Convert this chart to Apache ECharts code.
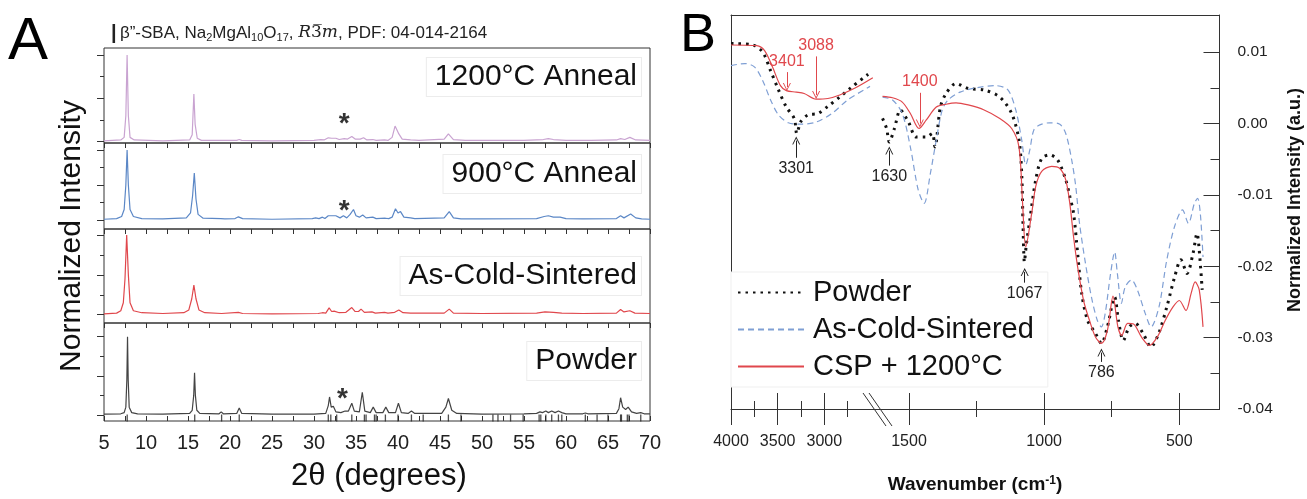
<!DOCTYPE html>
<html>
<head>
<meta charset="utf-8">
<script src="https://cdn.jsdelivr.net/npm/echarts@6/dist/echarts.min.js"></script>
<style>
  html, body { margin: 0; padding: 0; background: #fff; }
  #chart { width: 1307px; height: 499px; }
</style>
</head>
<body>
<div id="chart"></div>
<script>
// ---- XRD patterns (2theta, normalized intensity) ----
const xrd1200 = [[5,0.01],[7.0,0.02],[7.4,0.05],[7.6,0.3],[7.75,1.0],[7.9,0.3],[8.1,0.05],[8.6,0.02],[12,0.01],[15.2,0.02],[15.5,0.08],[15.7,0.55],[15.85,0.2],[16.1,0.04],[16.6,0.015],[20.8,0.015],[21.1,0.025],[21.4,0.015],[25,0.01],[30,0.015],[30.8,0.025],[31.2,0.02],[31.7,0.045],[32.1,0.04],[32.6,0.04],[33.0,0.025],[33.6,0.035],[34.0,0.03],[34.5,0.06],[34.9,0.03],[35.5,0.03],[35.9,0.045],[36.3,0.02],[37.0,0.025],[37.4,0.015],[38.4,0.02],[38.8,0.015],[39.3,0.05],[39.65,0.18],[40.1,0.09],[40.5,0.03],[41.5,0.02],[42.5,0.015],[45.5,0.03],[46.0,0.09],[46.6,0.025],[48,0.015],[55,0.015],[57.3,0.025],[57.9,0.035],[58.5,0.025],[60,0.015],[63,0.015],[66,0.02],[66.5,0.035],[67.0,0.025],[67.6,0.05],[68.3,0.02],[70,0.015]];
const xrd900 = [[5,0.01],[6.5,0.02],[7.1,0.05],[7.4,0.15],[7.6,0.5],[7.75,1.0],[7.9,0.5],[8.1,0.15],[8.5,0.05],[9.5,0.02],[12,0.015],[14.8,0.03],[15.3,0.1],[15.55,0.35],[15.75,0.67],[15.95,0.3],[16.2,0.08],[16.8,0.025],[18.9,0.02],[19.1,0.03],[19.4,0.015],[20.6,0.02],[21.0,0.045],[21.5,0.02],[25,0.01],[29.8,0.02],[30.2,0.03],[30.6,0.02],[31.0,0.04],[31.3,0.02],[31.7,0.06],[32.1,0.06],[32.6,0.06],[33.1,0.03],[33.5,0.06],[33.9,0.03],[34.3,0.08],[34.7,0.15],[35.0,0.06],[35.4,0.04],[35.8,0.07],[36.2,0.03],[37.0,0.04],[37.4,0.02],[38.5,0.025],[38.9,0.02],[39.3,0.04],[39.7,0.16],[40.0,0.1],[40.3,0.12],[40.7,0.04],[41.5,0.03],[42,0.02],[45.5,0.03],[46.1,0.12],[46.6,0.03],[47.5,0.015],[50,0.015],[56.5,0.02],[57.4,0.05],[57.9,0.06],[58.5,0.04],[59.3,0.04],[60,0.02],[62,0.015],[66,0.02],[66.5,0.06],[66.9,0.03],[67.7,0.085],[68.3,0.03],[69,0.015],[70,0.01]];
const xrdCold = [[5,0.01],[6.5,0.02],[7.0,0.05],[7.3,0.15],[7.5,0.45],[7.7,1.0],[7.9,0.5],[8.1,0.15],[8.5,0.05],[9.5,0.025],[12,0.015],[14.5,0.025],[15.1,0.06],[15.45,0.2],[15.7,0.37],[15.95,0.2],[16.3,0.06],[17,0.025],[19,0.015],[21.0,0.03],[21.5,0.015],[25,0.01],[30.5,0.015],[31.0,0.025],[31.4,0.02],[31.8,0.085],[32.1,0.04],[32.4,0.045],[33,0.025],[33.8,0.03],[34.5,0.09],[34.9,0.04],[35.3,0.04],[35.6,0.07],[36.0,0.03],[36.9,0.035],[37.3,0.02],[38.4,0.03],[38.8,0.02],[39.6,0.03],[40.1,0.06],[40.6,0.025],[41.5,0.02],[45.5,0.02],[46.1,0.07],[46.6,0.02],[50,0.015],[56.5,0.02],[57.5,0.035],[58.5,0.03],[59.5,0.02],[62,0.015],[66,0.02],[66.5,0.065],[66.9,0.035],[67.6,0.05],[68.2,0.02],[70,0.015]];
const xrdPowder = [[5,0.01],[7.0,0.015],[7.4,0.03],[7.6,0.1],[7.72,0.45],[7.8,1.0],[7.88,0.45],[8.0,0.1],[8.3,0.03],[9,0.015],[12,0.01],[15.2,0.02],[15.5,0.06],[15.68,0.25],[15.78,0.54],[15.88,0.25],[16.05,0.06],[16.4,0.02],[18.7,0.015],[18.95,0.04],[19.2,0.015],[20.8,0.02],[21.1,0.09],[21.4,0.02],[25,0.01],[30,0.01],[31.4,0.02],[31.7,0.12],[31.85,0.23],[32.05,0.1],[32.3,0.11],[32.6,0.04],[33.2,0.03],[33.7,0.05],[34.1,0.05],[34.5,0.15],[34.8,0.05],[35.4,0.04],[35.75,0.29],[36.05,0.05],[36.7,0.03],[37.05,0.1],[37.4,0.03],[38.2,0.03],[38.55,0.1],[38.9,0.03],[39.7,0.03],[40.05,0.15],[40.4,0.03],[41.2,0.02],[41.6,0.05],[42.0,0.02],[45.2,0.02],[45.7,0.1],[46.0,0.21],[46.4,0.06],[47,0.02],[50,0.01],[55,0.015],[56.5,0.02],[56.9,0.04],[57.2,0.03],[57.6,0.05],[57.9,0.03],[58.3,0.05],[58.7,0.03],[59.1,0.05],[59.5,0.03],[60,0.015],[62.0,0.015],[62.3,0.025],[62.6,0.015],[66.0,0.02],[66.3,0.08],[66.5,0.22],[66.75,0.1],[67.1,0.07],[67.4,0.1],[67.8,0.04],[68.4,0.02],[68.9,0.03],[69.3,0.015],[70,0.015]];

// reference pattern PDF 04-014-2164 (2theta of the bars)
const braggPositions = [7.76,15.8,19.0,21.1,31.7,32.0,32.7,34.5,36.0,36.2,37.2,37.4,38.5,40.0,41.6,43.0,46.0,47.5,51.3,51.9,53.4,54.9,56.8,57.0,57.6,58.3,59.1,59.5,62.3,63.7,65.0,66.5,66.6,67.3,67.5,68.9];
const asteriskMarks = [[0, 33.6, 0.2], [1, 33.6, 0.12], [3, 33.4, 0.2]]; // [panel, 2theta, height]

const xTicksA = [5,10,15,20,25,30,35,40,45,50,55,60,65,70];

// ---- FTIR spectra (wavenumber, normalized intensity) ----
const irPowderHigh = [[4000,0.0112],[3767,0.0110],[3660,0.0100],[3576,0.0074],[3491,0.0047],[3407,0.0023],[3322,0.0007],[3295,-0.0014],[3250,0.0003],[3174,0.0012],[3068,0.0014],[2962,0.0024],[2835,0.0037],[2707,0.0051],[2530,0.0069]];
const irColdHigh = [[4000,0.0081],[3852,0.0084],[3746,0.0079],[3660,0.0060],[3576,0.0033],[3491,0.0012],[3385,0.0001],[3258,-0.0001],[3089,0.0002],[2919,0.0014],[2750,0.0033],[2510,0.0052]];
const irCspHigh = [[4000,0.0110],[3725,0.0109],[3640,0.0102],[3555,0.0079],[3470,0.0053],[3407,0.0046],[3300,0.0044],[3216,0.0042],[3088,0.0034],[2962,0.0035],[2835,0.0040],[2665,0.0050],[2480,0.0064]];

const irPowderLow = [[1598,0.0007],[1583,-0.0007],[1573,-0.0026],[1554,-0.0007],[1532,0.0019],[1502,0.0002],[1473,-0.0019],[1436,-0.0019],[1414,-0.0014],[1404,-0.0033],[1384,0.0023],[1363,0.0042],[1326,0.0056],[1281,0.0049],[1222,0.0047],[1164,0.0037],[1120,0.0014],[1093,-0.0023],[1083,-0.0070],[1078,-0.0144],[1073,-0.0194],[1066,-0.0170],[1053,-0.0135],[1031,-0.0079],[1009,-0.0049],[980,-0.0044],[950,-0.0051],[920,-0.0079],[905,-0.0102],[891,-0.0126],[876,-0.0182],[861,-0.0238],[839,-0.0276],[810,-0.0294],[788,-0.0308],[766,-0.0285],[739,-0.0243],[725,-0.0276],[707,-0.0304],[685,-0.0285],[663,-0.0280],[634,-0.0294],[605,-0.0313],[576,-0.0294],[546,-0.0257],[517,-0.0215],[494,-0.0191],[471,-0.0210],[449,-0.0182],[434,-0.0154],[427,-0.0173],[415,-0.0233]];
const irColdLow = [[1598,0.0037],[1561,0.0033],[1525,0.0014],[1495,-0.0033],[1466,-0.0093],[1444,-0.0112],[1421,-0.0070],[1399,-0.0023],[1377,0.0019],[1355,0.0033],[1311,0.0044],[1252,0.0050],[1178,0.0053],[1134,0.0047],[1105,0.0019],[1083,-0.0023],[1068,-0.0058],[1053,-0.0037],[1038,-0.0009],[1016,-0.0002],[980,0.0001],[942,-0.0001],[920,-0.0014],[898,-0.0051],[883,-0.0088],[869,-0.0140],[847,-0.0196],[825,-0.0243],[803,-0.0276],[788,-0.0285],[774,-0.0266],[754,-0.0210],[739,-0.0180],[729,-0.0210],[714,-0.0252],[700,-0.0229],[677,-0.0219],[655,-0.0233],[626,-0.0266],[604,-0.0285],[575,-0.0257],[546,-0.0191],[517,-0.0144],[488,-0.0121],[466,-0.0140],[444,-0.0112],[432,-0.0105],[422,-0.0126],[412,-0.0187]];
const irCspLow = [[1598,0.0038],[1561,0.0036],[1525,0.0030],[1495,0.0014],[1463,-0.0007],[1436,0.0005],[1399,0.0023],[1363,0.0027],[1326,0.0029],[1281,0.0026],[1222,0.0019],[1164,0.0007],[1120,-0.0007],[1093,-0.0033],[1080,-0.0110],[1068,-0.0173],[1046,-0.0126],[1031,-0.0088],[1009,-0.0067],[972,-0.0060],[942,-0.0063],[920,-0.0079],[905,-0.0112],[891,-0.0159],[876,-0.0201],[854,-0.0248],[832,-0.0276],[810,-0.0299],[788,-0.0308],[766,-0.0290],[745,-0.0242],[727,-0.0285],[713,-0.0297],[691,-0.0280],[669,-0.0281],[640,-0.0299],[610,-0.0311],[581,-0.0299],[552,-0.0276],[523,-0.0257],[500,-0.0248],[475,-0.0262],[456,-0.0238],[441,-0.0222],[426,-0.0233],[412,-0.0285]];

// peak annotations: [label, wavenumber, arrow start, arrow end]
const cspMarksHigh = [['3401', 3401, 0.0072, 0.0051], ['3088', 3088, 0.0094, 0.0040]];
const cspMarksLow = [['1400', 1460, 0.0043, 0.0000]];
const powderMarksHigh = [['3301', 3301, -0.0048, -0.0024]];
const powderMarksLow = [['1630', 1573, -0.0059, -0.0038], ['1067', 1072, -0.0223, -0.0208], ['786', 788, -0.0334, -0.0321]];

const yTicksB = [-0.04, -0.03, -0.02, -0.01, 0, 0.01];
const yMinorB = [-0.035, -0.025, -0.015, -0.005, 0.005];

// ---------------------------------------------------------------
const FONT = 'Arial, "Liberation Sans", sans-serif';
const AX = '#333';
const RED = '#e0474c';

const panelsA = [
  { name: '1200°C Anneal', data: xrd1200, color: '#c9a3d1', top: 48, height: 95, min: -0.015, max: 1.081, labelY: 77 },
  { name: '900°C Anneal', data: xrd900, color: '#5b87c6', top: 143, height: 86, min: -0.129, max: 1.1, labelY: 174 },
  { name: 'As-Cold-Sintered', data: xrdCold, color: '#e0474c', top: 229, height: 94, min: -0.104, max: 1.075, labelY: 276 },
  { name: 'Powder', data: xrdPowder, color: '#444', top: 323, height: 98, min: -0.077, max: 1.175, labelY: 361 },
];

const chart = echarts.init(document.getElementById('chart'), null, { renderer: 'canvas' });

const grid = [];
const xAxis = [];
const yAxis = [];
const series = [];

panelsA.forEach((p, i) => {
  grid.push({ left: 104, right: 657, top: p.top, height: p.height, show: true,
    borderColor: AX, borderWidth: 1, backgroundColor: 'transparent', outerBoundsMode: 'none' });
  const last = i === panelsA.length - 1;
  const tickStyle = { color: AX, width: 1 };
  xAxis.push({
    gridIndex: i, type: 'value', min: 5, max: 70, interval: 5, position: 'bottom',
    axisLine: { show: false, onZero: false },
    axisTick: { show: last, inside: true, length: 5, lineStyle: tickStyle },
    minorTick: { show: last, splitNumber: 2, length: 5, lineStyle: tickStyle },
    axisLabel: { show: last, fontSize: 20, fontFamily: FONT, color: '#222', margin: 12,
      customValues: xTicksA },
    splitLine: { show: false },
  });
  xAxis.push({
    gridIndex: i, type: 'value', min: 5, max: 70, interval: 5, position: 'top',
    axisLine: { show: false, onZero: false },
    axisTick: { show: i > 0, inside: true, length: 5, lineStyle: tickStyle },
    minorTick: { show: i > 0, splitNumber: 2, length: 5, lineStyle: tickStyle },
    axisLabel: { show: false },
    splitLine: { show: false },
  });
  yAxis.push({
    gridIndex: i, type: 'value', min: p.min, max: p.max, position: 'left',
    axisLine: { show: false, onZero: false },
    axisTick: { show: true, inside: false, length: 7, customValues: [0, 0.5, 1], lineStyle: tickStyle },
    axisLabel: { show: false }, splitLine: { show: false },
  });
  yAxis.push({
    gridIndex: i, type: 'value', min: p.min, max: p.max, position: 'left',
    axisLine: { show: false, onZero: false },
    axisTick: { show: true, inside: false, length: 4, customValues: [0.25, 0.75], lineStyle: tickStyle },
    axisLabel: { show: false }, splitLine: { show: false },
  });
  series.push({
    type: 'line', name: 'XRD ' + p.name, xAxisIndex: 2 * i, yAxisIndex: 2 * i,
    data: p.data, symbol: 'none', smooth: false,
    lineStyle: { color: p.color, width: 1.2 }, itemStyle: { color: p.color }, z: 3,
  });
});

// asterisks
asteriskMarks.forEach(([pi, x, h]) => {
  series.push({
    type: 'scatter', xAxisIndex: 2 * pi, yAxisIndex: 2 * pi, data: [[x, h]],
    symbolSize: 1, itemStyle: { color: 'transparent' }, silent: true, z: 4,
    label: { show: true, position: 'inside', formatter: '*', fontSize: 28, fontWeight: 'bold',
      fontFamily: FONT, color: '#000' },
  });
});

// Bragg reference bars
series.push({
  type: 'scatter', xAxisIndex: 6, yAxisIndex: 6,
  data: braggPositions.map((b) => [b, panelsA[3].min / 2]),
  symbol: 'rect', symbolSize: [1.3, 7], itemStyle: { color: '#222' }, silent: true, z: 4,
});

// ---- Panel B ----
const B_TOP = 15, B_H = 394;
grid.push({ left: 731, top: B_TOP, width: 143.7, height: B_H, outerBoundsMode: 'none' });
grid.push({ left: 874.7, top: B_TOP, width: 344.8, height: B_H, outerBoundsMode: 'none' });

// bottom axis: line + labels, plus two tick-only axes shifted down so their ticks cross the line
function bottomAxes(g, min, max, majors, minors) {
  const ls = { color: AX, width: 1 };
  const base = { gridIndex: g, type: 'value', min, max, inverse: true, position: 'bottom', splitLine: { show: false } };
  return [
    Object.assign({}, base, {
      axisLine: { show: true, onZero: false, lineStyle: ls },
      axisTick: { show: false },
      axisLabel: { show: true, customValues: majors, formatter: (v) => String(v), margin: 25,
        fontSize: 16, fontFamily: FONT, color: '#222' },
    }),
    Object.assign({}, base, {
      offset: 16,
      axisLine: { show: false, onZero: false },
      axisTick: { show: true, inside: true, length: 32, customValues: majors, lineStyle: ls },
      axisLabel: { show: false },
    }),
    Object.assign({}, base, {
      offset: 8,
      axisLine: { show: false, onZero: false },
      axisTick: { show: true, inside: true, length: 16, customValues: minors, lineStyle: ls },
      axisLabel: { show: false },
    }),
    Object.assign({}, base, {
      position: 'top', axisLine: { show: true, onZero: false, lineStyle: ls },
      axisTick: { show: false }, axisLabel: { show: false },
    }),
  ];
}
const xB1 = xAxis.length;
xAxis.push(...bottomAxes(4, 2460, 4000, [3000, 3500, 4000], [2750, 3250, 3750]));
const xB2 = xAxis.length;
xAxis.push(...bottomAxes(5, 351, 1627, [500, 1000, 1500], [750, 1250]));

const yB1 = yAxis.length;
yAxis.push({ gridIndex: 4, type: 'value', min: -0.04, max: 0.0152, position: 'left',
  axisLine: { show: true, onZero: false, lineStyle: { color: AX } }, axisTick: { show: false }, axisLabel: { show: false },
  splitLine: { show: false } });
const yB2 = yAxis.length;
yAxis.push({ gridIndex: 5, type: 'value', min: -0.04, max: 0.0152, position: 'right',
  axisLine: { show: true, onZero: false, lineStyle: { color: AX } },
  axisTick: { show: true, inside: true, length: 16, customValues: yTicksB, lineStyle: { color: AX } },
  axisLabel: { show: true, customValues: yTicksB, formatter: (v) => v.toFixed(2), margin: 18,
    fontSize: 15.5, fontFamily: FONT, color: '#222' },
  splitLine: { show: false } });
yAxis.push({ gridIndex: 5, type: 'value', min: -0.04, max: 0.0152, position: 'right',
  axisLine: { show: false, onZero: false },
  axisTick: { show: true, inside: true, length: 9, customValues: yMinorB, lineStyle: { color: AX } },
  axisLabel: { show: false }, splitLine: { show: false } });

const chevron = 'path://M0,10 L5,0 L10,10 L8.8,10 L5,2.4 L1.2,10 Z';
function marks(list, color) {
  return {
    silent: true, animation: false, symbol: ['none', chevron], symbolSize: [8, 8],
    lineStyle: { color, width: 1, type: 'solid' },
    label: { show: true, position: 'start', formatter: '{b}', distance: 3,
      color, fontSize: 16, fontFamily: FONT },
    data: list.map(([name, wn, a, b]) => [{ name, coord: [wn, a] }, { coord: [wn, b] }]),
  };
}

const irStyles = {
  'Powder': { color: '#111', width: 3, type: [2.5, 5] },
  'As-Cold-Sintered': { color: '#7f9fd4', width: 1.2, type: [6, 4] },
  'CSP + 1200°C': { color: RED, width: 1.2, type: 'solid' },
};
const irSets = [
  ['Powder', irPowderHigh, irPowderLow, powderMarksHigh, powderMarksLow],
  ['As-Cold-Sintered', irColdHigh, irColdLow, [], []],
  ['CSP + 1200°C', irCspHigh, irCspLow, cspMarksHigh, cspMarksLow],
];
irSets.forEach(([name, hi, lo, mHi, mLo]) => {
  const st = irStyles[name];
  [[hi, xB1, yB1, mHi], [lo, xB2, yB2, mLo]].forEach(([d, xi, yi, m]) => {
    series.push({
      type: 'line', name, xAxisIndex: xi, yAxisIndex: yi, data: d, symbol: 'none',
      smooth: 0.3, lineStyle: { color: st.color, width: st.width, type: st.type },
      itemStyle: { color: st.color }, z: 3,
      markLine: m.length ? marks(m, name === 'Powder' ? '#222' : RED) : undefined,
    });
  });
});

const graphic = [
  { type: 'text', left: 8, top: 12, style: { text: 'A', font: '60px ' + FONT, fill: '#000' } },
  { type: 'text', left: 680, top: 9, style: { text: 'B', font: '54px ' + FONT, fill: '#000' } },
  {
    type: 'text', x: 111, y: 33,
    style: {
      text: '{bar||} {t|β”-SBA, Na}{s|2}{t|MgAl}{s|10}{t|O}{s|17}{t|, }{i|R}{n|3\u0305}{i|m}{t|, PDF: 04-014-2164}',
      verticalAlign: 'middle', fill: '#222',
      rich: {
        bar: { fontSize: 20, fontWeight: 'bold', fontFamily: FONT, fill: '#222' },
        t: { fontSize: 17, fontFamily: FONT, fill: '#222' },
        s: { fontSize: 11, fontFamily: FONT, fill: '#222', padding: [9, 0, 0, 0] },
        i: { fontSize: 17, fontFamily: '"DejaVu Serif", serif', fontStyle: 'italic', fill: '#222' },
        n: { fontSize: 17, fontFamily: '"DejaVu Serif", serif', fill: '#222' },
      },
    },
  },
  { type: 'text', x: 72, y: 236, rotation: Math.PI / 2,
    style: { text: 'Normalized Intensity', font: '30px ' + FONT, fill: '#111', align: 'center', verticalAlign: 'middle' } },
  { type: 'text', x: 379, y: 476,
    style: { text: '2θ (degrees)', font: '31px ' + FONT, fill: '#111', align: 'center', verticalAlign: 'middle' } },
  { type: 'text', x: 975, y: 485,
    style: {
      text: '{a|Wavenumber (cm}{s|-1}{a|)}', align: 'center', verticalAlign: 'middle',
      rich: {
        a: { fontSize: 19, fontWeight: 'bold', fontFamily: FONT, fill: '#111' },
        s: { fontSize: 12, fontWeight: 'bold', fontFamily: FONT, fill: '#111', padding: [0, 0, 9, 0] },
      },
    } },
  { type: 'text', x: 1295, y: 200, rotation: Math.PI / 2,
    style: { text: 'Normalized Intensity (a.u.)', font: 'bold 18px ' + FONT, fill: '#111',
      align: 'center', verticalAlign: 'middle' } },
  { type: 'line', shape: { x1: 863, y1: 393, x2: 886, y2: 426 }, style: { stroke: AX, lineWidth: 1 } },
  { type: 'line', shape: { x1: 869, y1: 393, x2: 892, y2: 426 }, style: { stroke: AX, lineWidth: 1 } },
];
panelsA.forEach((p) => {
  graphic.push({
    type: 'text', x: 641, y: p.labelY, z: 10,
    style: {
      text: p.name, font: '30px ' + FONT, fill: '#111', align: 'right', verticalAlign: 'middle',
      backgroundColor: '#fff', borderColor: '#ececec', borderWidth: 1, padding: [5, 4, 3, 8],
    },
  });
});

chart.setOption({
  animation: false,
  backgroundColor: '#fff',
  grid, xAxis, yAxis, series, graphic,
  legend: {
    data: ['Powder', 'As-Cold-Sintered', 'CSP + 1200°C'],
    orient: 'vertical', left: 731, top: 272, padding: [6, 14, 6, 6],
    itemWidth: 66, itemHeight: 14, itemGap: 8,
    itemStyle: { opacity: 0 },
    backgroundColor: '#fff', borderColor: '#efefef', borderWidth: 1,
    textStyle: { fontSize: 29, fontFamily: FONT, color: '#111', padding: [0, 0, 0, 4] },
    selectedMode: false,
  },
});
</script>
</body>
</html>
